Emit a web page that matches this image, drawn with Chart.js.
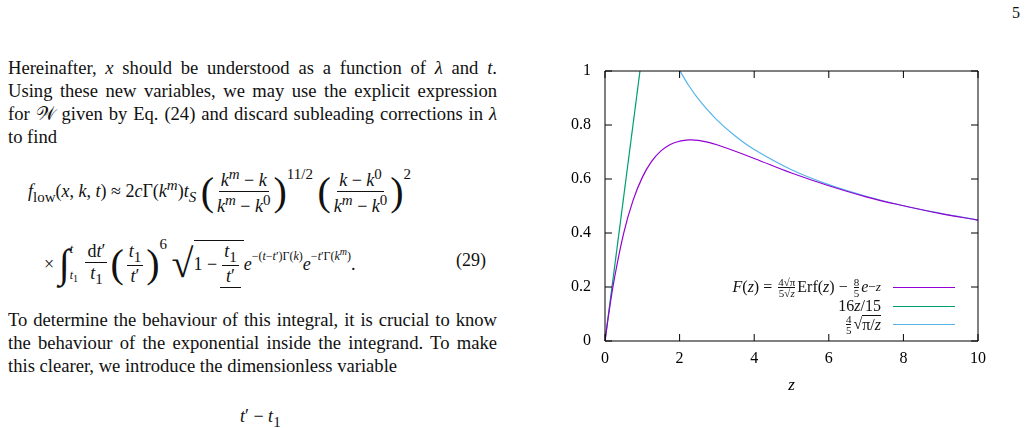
<!DOCTYPE html>
<html><head><meta charset="utf-8">
<script src="https://cdn.jsdelivr.net/npm/chart.js@4/dist/chart.umd.min.js"></script>
<style>
body{margin:0;width:1029px;height:428px;overflow:hidden;background:#fff;font-family:"Liberation Serif",serif;color:#111;position:relative}
.p{position:absolute;left:8px;width:489px;font-size:18.6px;line-height:23px;text-align:justify;hyphens:auto}
.eq{position:absolute;font-size:18px;white-space:nowrap;display:flex;align-items:center}
i{font-style:italic}
.fr{display:inline-flex;flex-direction:column;align-items:center;vertical-align:middle;margin:0 3px}
.fr>span:first-child{border-bottom:1px solid #111;padding:0 2px}
.big{font-size:40px;font-weight:200;line-height:1}
.ex{position:relative;top:-10px;font-size:12px}
#wrap{position:absolute;left:555px;top:50px;width:470px;height:360px}
#leg{position:absolute;font-size:16px;white-space:nowrap}
.row{position:absolute;right:0;height:18px;white-space:nowrap;display:flex;align-items:center}
.sf{display:inline-flex;flex-direction:column;align-items:center;font-size:11px;line-height:10px;margin:0 2px}
.sf>span:first-child{border-bottom:0.8px solid #111}
.ln{display:inline-block;width:62px;height:0;border-top:1.3px solid;margin-left:12px}
</style></head><body>
<div style="position:absolute;left:1012px;top:4px;font-size:16px">5</div>
<div class="p" style="top:56px" lang="en">Hereinafter, <i>x</i> should be understood as a function of <i>λ</i> and <i>t</i>. Using these new variables, we may use the explicit expression for 𝒲 given by Eq. (24) and discard subleading corrections in <i>λ</i> to find</div>
<div class="eq" style="left:28px;top:166px"><span><i>f</i><sub>low</sub>(<i>x</i>, <i>k</i>, <i>t</i>) ≈ 2<i>c</i>Γ(<i>k<sup>m</sup></i>)<i>t<sub>S</sub></i></span>&nbsp;<span class="big">(</span><span class="fr"><span><i>k<sup>m</sup></i> − <i>k</i></span><span><i>k<sup>m</sup></i> − <i>k</i><sup>0</sup></span></span><span class="big">)</span><sup style="align-self:flex-start">11/2</sup>&nbsp;<span class="big">(</span><span class="fr"><span><i>k</i> − <i>k</i><sup>0</sup></span><span><i>k<sup>m</sup></i> − <i>k</i><sup>0</sup></span></span><span class="big">)</span><sup style="align-self:flex-start">2</sup></div>
<div class="eq" style="left:44px;top:236px">×&nbsp;<span class="big" style="font-style:italic">∫</span><span style="display:inline-flex;flex-direction:column;font-size:12px;line-height:26px"><i>t</i><span><i>t</i><sub>1</sub></span></span>&nbsp;<span class="fr"><span>d<i>t</i>′</span><span><i>t</i><sub>1</sub></span></span><span class="big">(</span><span class="fr"><span><i>t</i><sub>1</sub></span><span><i>t</i>′</span></span><span class="big">)</span><sup style="align-self:flex-start">6</sup>&nbsp;<span class="big">√</span><span class="fr" style="border-top:1px solid #111;margin:0;flex-direction:row">1 − <span class="fr"><span><i>t</i><sub>1</sub></span><span><i>t</i>′</span></span></span><span><i>e</i><span class="ex">−(<i>t</i>−<i>t</i>′)Γ(<i>k</i>)</span><i>e</i><span class="ex">−<i>t</i>′Γ(<i>k<sup>m</sup></i>)</span>.</span></div>
<div class="eq" style="left:456px;top:250px">(29)</div>
<div class="p" style="top:308px" lang="en">To determine the behaviour of this integral, it is crucial to know the behaviour of the exponential inside the integrand. To make this clearer, we introduce the dimensionless variable</div>
<div style="position:absolute;left:240px;top:406px;font-size:18px"><i>t</i>′ − <i>t</i><sub>1</sub></div>
<div id="wrap"><canvas id="c" width="470" height="360"></canvas>
<div id="leg" style="right:70px;top:228px;width:340px">
<div class="row" style="top:0"><i>F</i>(<i>z</i>) =&nbsp;<span class="sf"><span>4√π</span><span>5√<i>z</i></span></span>Erf(<i>z</i>) −&nbsp;<span class="sf"><span>8</span><span>5</span></span><i>e</i><sup>−<i>z</i></sup><span class="ln" style="border-color:#9400d3"></span></div>
<div class="row" style="top:19px">16<i>z</i>/15<span class="ln" style="border-color:#009e73"></span></div>
<div class="row" style="top:37px"><span class="sf"><span>4</span><span>5</span></span>√<span style="border-top:1px solid #111">π/<i>z</i></span><span class="ln" style="border-color:#56b4e9"></span></div>
</div></div>
<script>
const zF = [0, 0.1, 0.25, 0.5, 0.75, 1, 1.25, 1.5, 1.75, 2, 2.25, 2.5, 3, 4, 5, 6, 7, 8, 9, 10];
const F = [0, 0.100, 0.230, 0.399, 0.520, 0.606, 0.665, 0.704, 0.728, 0.740, 0.745, 0.743, 0.727, 0.676, 0.622, 0.575, 0.534, 0.501, 0.472, 0.448];
const zLin = [0, 1.2];
const lin = [0, 1.28];
const zAsym = [2.0, 2.2, 2.5, 3, 3.5, 4, 5, 6, 7, 8, 9, 10];
const asym = [1.003, 0.956, 0.897, 0.819, 0.758, 0.709, 0.634, 0.579, 0.536, 0.501, 0.473, 0.448];
const xTicks = [0, 2, 4, 6, 8, 10];
const yTicks = [0, 0.2, 0.4, 0.6, 0.8, 1];

const pts = (xs, ys) => xs.map((x, i) => ({x, y: ys[i]}));
const font = {family: 'Liberation Serif', size: 16};

// gnuplot-style box with inward ticks on all sides
const inTicks = {
  id: 'inTicks',
  afterDraw(ch) {
    const {ctx, chartArea: a, scales: {x, y}} = ch;
    ctx.save(); ctx.strokeStyle = '#000'; ctx.lineWidth = 1; ctx.beginPath();
    xTicks.forEach(v => { const p = x.getPixelForValue(v); ctx.moveTo(p, a.bottom); ctx.lineTo(p, a.bottom - 7); ctx.moveTo(p, a.top); ctx.lineTo(p, a.top + 7); });
    yTicks.forEach(v => { const p = y.getPixelForValue(v); ctx.moveTo(a.left, p); ctx.lineTo(a.left + 7, p); ctx.moveTo(a.right, p); ctx.lineTo(a.right - 7, p); });
    ctx.rect(a.left, a.top, a.right - a.left, a.bottom - a.top);
    ctx.stroke(); ctx.restore();
  }
};

new Chart(document.getElementById('c'), {
  type: 'line',
  data: {datasets: [
    {data: pts(zF, F), borderColor: '#9400d3', tension: 0.4},
    {data: pts(zLin, lin), borderColor: '#009e73'},
    {data: pts(zAsym, asym), borderColor: '#56b4e9', tension: 0.4}
  ]},
  options: {
    responsive: false, animation: false, devicePixelRatio: 1,
    elements: {point: {radius: 0}, line: {borderWidth: 1.2}},
    layout: {padding: {top: 21, right: 47, bottom: 10}},
    plugins: {legend: {display: false}, tooltip: {enabled: false}},
    scales: {
      x: {type: 'linear', min: 0, max: 10, afterFit: s => { s.height = 59; },
        afterBuildTicks: s => { s.ticks = xTicks.map(v => ({value: v})); },
        grid: {display: false}, border: {display: false},
        ticks: {color: '#000', font, padding: 0},
        title: {display: true, text: 'z', color: '#000', font: {family: 'Liberation Serif', size: 17, style: 'italic'}, padding: {top: 0}}},
      y: {min: 0, max: 1, afterFit: s => { s.width = 50; },
        afterBuildTicks: s => { s.ticks = yTicks.map(v => ({value: v})); },
        grid: {display: false}, border: {display: false},
        ticks: {color: '#000', font, padding: 6, callback: v => String(v)}}
    }
  },
  plugins: [inTicks]
});
</script>
</body></html>
